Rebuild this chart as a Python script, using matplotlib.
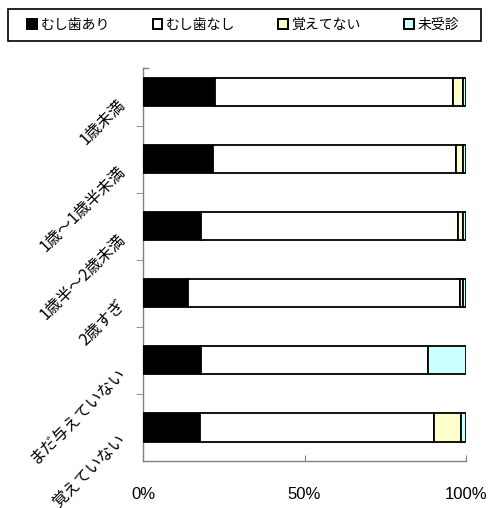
import matplotlib
matplotlib.use("Agg")
import matplotlib.pyplot as plt
from matplotlib.patches import Patch, Rectangle
from matplotlib.ticker import FixedLocator
import matplotlib.transforms as mtransforms
import numpy as np

plt.rcParams['font.family'] = ['Noto Sans CJK JP', 'DejaVu Sans']

categories = ["1歳未満", "1歳～1歳半未満", "1歳半～2歳未満", "2歳すぎ", "まだ与えていない", "覚えていない"]
series_names = ["むし歯あり", "むし歯なし", "覚えてない", "未受診"]
caries_yes = [22.3, 21.6, 18.1, 14.0, 18.0, 17.6]
caries_no = [73.7, 75.3, 79.3, 84.1, 70.3, 72.5]
not_remember = [3.0, 2.3, 1.6, 1.0, 0.0, 8.5]
not_examined = [1.0, 0.8, 1.0, 0.9, 11.7, 1.4]
colors = ["#000000", "#FFFFFF", "#FFFFCC", "#CCFFFF"]
xtick_labels = ["0%", "50%", "100%"]

W, H = 489, 508
fig = plt.figure(figsize=(W / 100, H / 100), dpi=100)
ax = fig.add_axes([143 / W, 47 / H, (466 - 143) / W, (461 - 68) / H])

y = np.arange(len(categories))
left = np.zeros(len(categories))
for vals, col, name in zip([caries_yes, caries_no, not_remember, not_examined], colors, series_names):
    v = np.array(vals)
    ax.barh(y, v, left=left, height=0.42, color=col, edgecolor="black", linewidth=1.3, label=name, zorder=3)
    left = left + v

ax.set_xlim(0, 100)
ax.set_ylim(len(categories) - 0.5, -0.36)

for s in ["top", "right"]:
    ax.spines[s].set_visible(False)
for s in ["left", "bottom"]:
    ax.spines[s].set_color("#808080")
    ax.spines[s].set_linewidth(1.0)

ax.set_xticks([0, 50, 100])
ax.set_xticklabels(xtick_labels, family=["Liberation Sans"], fontsize=12)
ax.tick_params(axis="x", direction="in", length=4, color="#808080", pad=19)

ax.set_yticks([])
ax.yaxis.set_minor_locator(FixedLocator(np.arange(0.5, len(categories) - 0.5, 1.0)))
ax.tick_params(axis="y", which="minor", direction="out", length=5, color="#808080")
ax.plot([0, 0.015], [1, 1], transform=ax.transAxes, color="#808080", lw=1.0, clip_on=False)

offset = mtransforms.ScaledTranslation(-20 / 100, -10 / 100, fig.dpi_scale_trans)
trans = mtransforms.blended_transform_factory(ax.transAxes, ax.transData) + offset
for yi, lab in zip(y, categories):
    ax.text(0, yi, lab, transform=trans, rotation=45, rotation_mode="anchor",
            ha="right", va="center", fontsize=11.5)

# legend
fig.patches.append(Rectangle((8 / W, 1 - 41 / H), (481 - 8) / W, 32 / H, transform=fig.transFigure,
                             facecolor="white", edgecolor="black", linewidth=1.2))
handles = [Patch(facecolor=c, edgecolor="black", linewidth=1.4) for c in colors]
fig.legend(handles, series_names, loc="center", bbox_to_anchor=(243 / W, 1 - 25 / H), ncol=4,
           frameon=False, fontsize=10, handlelength=0.7, handleheight=0.7, handletextpad=0.25,
           columnspacing=3.1, borderpad=0)

fig.savefig("out.png", dpi=100)
